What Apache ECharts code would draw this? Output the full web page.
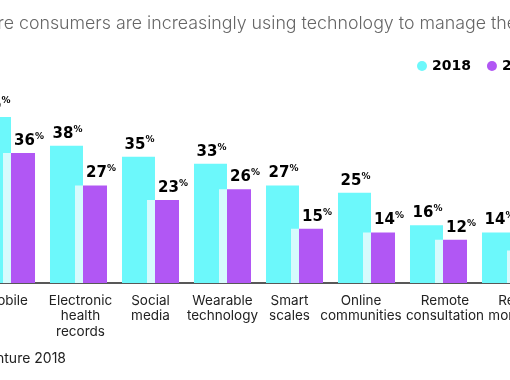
<!DOCTYPE html>
<html>
<head>
<meta charset="utf-8">
<script src="https://cdn.jsdelivr.net/npm/echarts@6/dist/echarts.min.js"></script>
<style>
html,body{margin:0;padding:0;background:#fff;overflow:hidden;width:510px;height:380px;position:relative;}
#chart{width:700px;height:380px;position:absolute;left:-100px;top:0;}
</style>
</head>
<body>
<div id="chart"></div>
<script>
const titleText = 'More consumers are increasingly using technology to manage their health';
const sourceText = 'Source: Accenture 2018';
const categories = ['Mobile', 'Electronic\nhealth\nrecords', 'Social\nmedia', 'Wearable\ntechnology', 'Smart\nscales', 'Online\ncommunities', 'Remote\nconsultation', 'Remote\nmonitoring'];
const seriesNames = ['2018', '2016'];
const values2018 = [46, 38, 35, 33, 27, 25, 16, 14];
const values2016 = [36, 27, 23, 26, 15, 14, 12, 9];

const CYAN = '#6cf8fb';
const PURPLE = '#b157f4';
const PALE = '#d6fbfd';

// horizontal nudge of each category label (px), style only
const labelShift = [0, 2, 0, 0, -5, -5.5, 6.5, 12];

const chart = echarts.init(document.getElementById('chart'));

const labelRich = {
  n: {fontFamily: 'DejaVu Sans', fontWeight: 'bold', fontSize: 15, color: '#000', lineHeight: 18},
  p: {fontFamily: 'DejaVu Sans', fontWeight: 'bold', fontSize: 9, color: '#000', lineHeight: 18, verticalAlign: 'top', padding: [0, 0, 6, 0]}
};
const fmt = p => '{n|' + p.value + '}{p|%}';

const axisData = categories.map((c, i) => {
  const s = labelShift[i];
  return {
    value: c,
    textStyle: {padding: s >= 0 ? [0, 0, 0, 2 * s] : [0, -2 * s, 0, 0]}
  };
});

chart.setOption({
  animation: false,
  backgroundColor: '#fff',
  graphic: [
    {type: 'text', left: 71, top: 15, style: {text: titleText, fontFamily: 'Inter', fontWeight: 300, fontSize: 17.8, fill: '#666'}},
    {type: 'text', right: 534, top: 352, style: {text: sourceText, fontFamily: 'Inter', fontSize: 14, fill: '#222'}}
  ],
  legend: {
    orient: 'horizontal',
    data: [
      {name: seriesNames[0], itemStyle: {color: CYAN}},
      {name: seriesNames[1], itemStyle: {color: PURPLE}}
    ],
    left: 512, top: 54,
    icon: 'circle', itemWidth: 10, itemHeight: 10, itemGap: 16,
    textStyle: {fontFamily: 'DejaVu Sans', fontWeight: 'bold', fontSize: 14, color: '#000'},
    selectedMode: false
  },
  grid: {left: 70.5, right: 53.5, top: 66.4, bottom: 97, containLabel: false},
  xAxis: {
    type: 'category',
    data: axisData,
    axisTick: {show: false},
    axisLine: {lineStyle: {color: '#222', width: 1.5}},
    axisLabel: {interval: 0, margin: 10, fontFamily: 'Inter', fontSize: 13.5, color: '#222', lineHeight: 15.5, verticalAlign: 'top'}
  },
  yAxis: {type: 'value', min: 0, max: 60, show: false, splitLine: {show: false}},
  series: [
    {
      name: seriesNames[0], type: 'bar', data: values2018, barWidth: 33, barGap: '-24.2%',
      itemStyle: {color: CYAN},
      label: {show: true, position: 'top', distance: 3, offset: [1, 0], formatter: fmt, rich: labelRich}
    },
    {
      name: seriesNames[1], type: 'bar', data: values2016, barWidth: 32,
      itemStyle: {color: new echarts.graphic.LinearGradient(0, 0, 1, 0, [
        {offset: 0, color: PALE}, {offset: 0.25, color: PALE},
        {offset: 0.25, color: PURPLE}, {offset: 1, color: PURPLE}
      ])},
      label: {show: true, position: 'top', distance: 3, offset: [10, 0], formatter: fmt, rich: labelRich}
    }
  ]
});
</script>
</body>
</html>
